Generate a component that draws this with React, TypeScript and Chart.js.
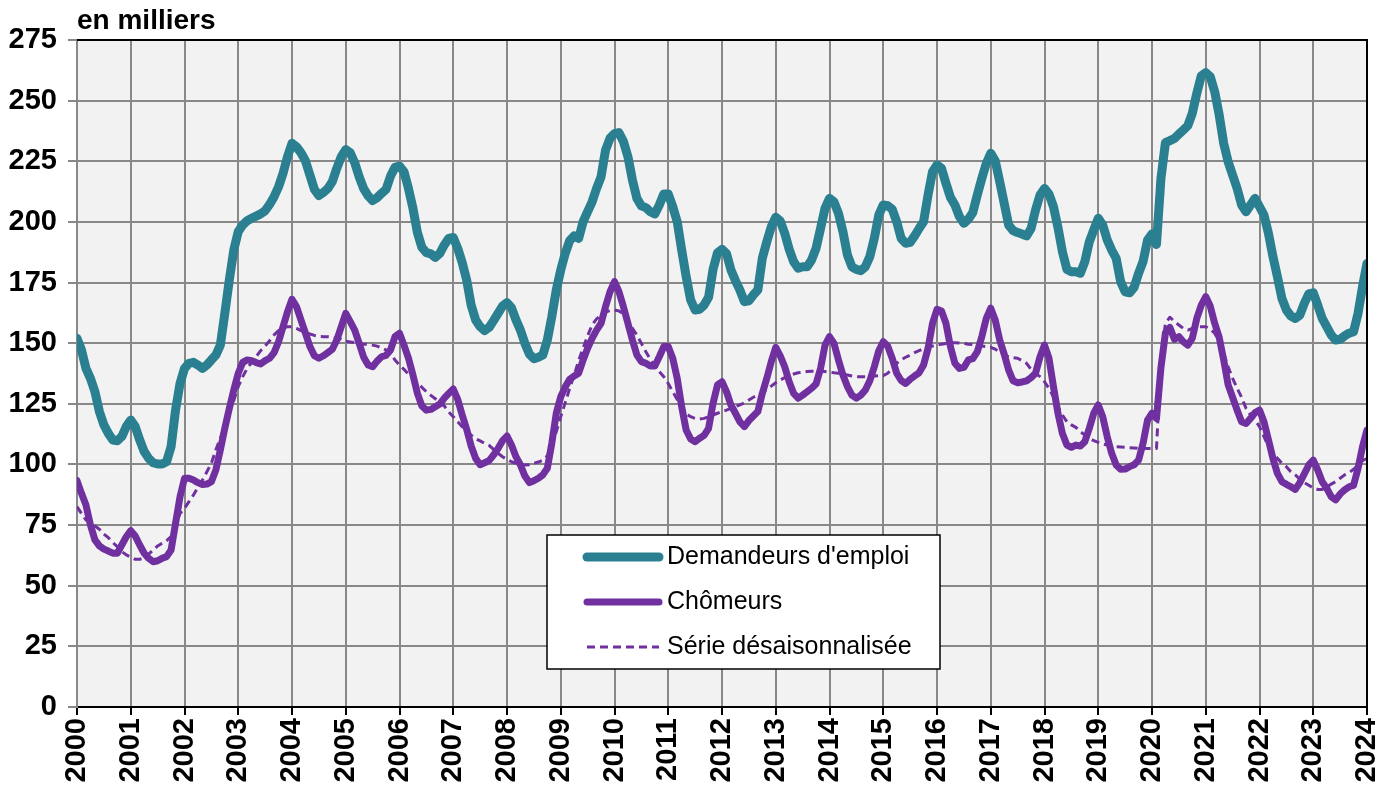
import React, { useEffect, useRef } from "react";
import { Chart, registerables } from "chart.js";

Chart.register(...registerables);

// ---------------- data ----------------
const START_YEAR = 2000;
const YEAR_TICKS = [2000, 2001, 2002, 2003, 2004, 2005, 2006, 2007, 2008, 2009, 2010, 2011, 2012, 2013, 2014, 2015, 2016, 2017, 2018, 2019, 2020, 2021, 2022, 2023, 2024];
const VALUE_TICKS = [0, 25, 50, 75, 100, 125, 150, 175, 200, 225, 250, 275];

const SERIES_NAMES = ["Demandeurs d'emploi", "Chômeurs", "Série désaisonnalisée"];
const UNIT_LABEL = "en milliers";

// monthly values, January 2000 ... January 2024 (thousands)
const demandeurs = [
  152.0, 147.2, 139.6, 135.5, 130.0, 121.8, 116.3, 112.8, 110.1, 109.8, 111.5, 115.6,
  118.3, 115.6, 110.1, 105.3, 102.5, 100.7, 100.2, 100.2, 101.1, 107.3, 122.4, 133.4,
  139.6, 141.7, 142.1, 141.0, 139.6, 141.0, 143.1, 145.1, 149.2, 162.3, 176.0, 188.4,
  196.0, 198.7, 200.5, 201.5, 202.4, 203.3, 204.6, 207.2, 210.4, 214.5, 220.0, 226.9,
  232.4, 231.0, 228.5, 225.2, 219.3, 213.4, 210.9, 212.1, 213.8, 216.6, 222.1, 226.9,
  229.8, 228.5, 224.4, 218.6, 213.7, 210.7, 208.8, 210.0, 211.8, 213.4, 218.9, 222.5,
  223.0, 220.7, 213.8, 205.6, 195.6, 189.5, 187.3, 186.8, 185.4, 187.0, 190.5, 193.2,
  193.6, 189.1, 183.2, 176.0, 165.7, 159.6, 156.8, 155.2, 156.5, 159.3, 162.3, 165.3,
  166.7, 164.6, 159.6, 155.4, 149.9, 145.5, 143.6, 144.2, 145.1, 151.3, 160.9, 171.9,
  180.2, 187.0, 192.3, 194.2, 193.2, 200.1, 204.2, 208.3, 213.8, 218.6, 229.6, 234.5,
  236.4, 236.8, 233.1, 226.9, 217.3, 209.7, 206.6, 205.9, 204.2, 203.3, 207.0, 211.5,
  211.5, 206.3, 200.1, 188.4, 177.4, 167.8, 163.7, 164.0, 165.7, 168.9, 180.4, 187.3,
  188.7, 187.0, 180.2, 175.8, 171.9, 167.1, 167.5, 169.9, 171.9, 185.0, 191.8, 198.0,
  201.9, 200.4, 195.3, 188.7, 183.6, 180.9, 181.5, 181.5, 184.3, 189.1, 197.3, 205.6,
  209.7, 208.3, 203.5, 196.0, 186.4, 181.5, 180.4, 179.9, 181.5, 185.7, 193.2, 202.8,
  207.0, 206.7, 205.2, 200.1, 193.2, 191.2, 191.6, 194.2, 197.3, 200.1, 211.1, 220.7,
  223.5, 222.1, 215.9, 210.1, 207.0, 202.2, 199.4, 201.1, 203.9, 211.1, 217.9, 224.1,
  228.3, 225.2, 216.6, 207.7, 198.7, 196.4, 195.6, 195.0, 194.2, 197.3, 204.9, 211.1,
  213.8, 211.5, 206.3, 197.8, 187.7, 180.4, 179.5, 179.5, 178.8, 183.6, 191.8, 196.7,
  201.5, 198.7, 192.6, 188.4, 185.0, 175.4, 171.2, 170.8, 173.0, 178.8, 183.6, 192.5,
  195.0, 190.7, 218.0, 232.7, 233.5, 234.4, 236.2, 237.9, 239.7, 244.8, 253.0, 260.2,
  261.5, 259.9, 253.7, 244.1, 232.4, 224.8, 219.3, 213.8, 207.0, 204.2, 207.0, 209.7,
  206.3, 202.8, 195.3, 185.7, 177.4, 168.5, 163.7, 161.2, 160.2, 161.6, 166.4, 170.3,
  170.8, 165.7, 160.2, 156.8, 153.4, 151.3, 151.6, 153.0, 154.1, 154.7, 162.3, 173.3,
  182.9,
];

const chomeurs = [
  93.3, 88.1, 83.3, 75.0, 68.9, 66.4, 65.1, 64.3, 63.4, 63.4, 66.8, 70.2,
  72.7, 70.5, 66.8, 63.4, 61.3, 59.9, 60.3, 61.3, 62.0, 64.7, 75.7, 86.7,
  94.3, 94.3, 93.6, 92.5, 91.7, 91.9, 92.9, 97.7, 106.0, 114.9, 123.1, 130.7,
  137.6, 142.1, 143.1, 142.8, 142.0, 141.4, 142.8, 143.8, 146.1, 150.6, 156.8, 163.0,
  168.1, 165.1, 159.6, 154.1, 148.6, 144.8, 143.8, 144.8, 146.1, 147.5, 151.3, 156.8,
  162.3, 158.9, 155.4, 149.9, 144.2, 141.0, 140.3, 142.6, 144.4, 145.0, 147.2, 152.7,
  154.1, 149.2, 143.8, 136.9, 129.3, 124.1, 122.4, 122.7, 123.8, 124.9, 127.3, 129.3,
  131.1, 126.8, 120.4, 114.5, 107.6, 102.5, 99.9, 100.7, 101.6, 103.9, 106.6, 109.8,
  111.7, 108.0, 103.2, 99.8, 95.2, 92.5, 93.3, 94.3, 95.7, 98.4, 108.7, 121.1,
  127.9, 132.0, 135.1, 136.5, 137.6, 143.1, 147.9, 152.0, 155.4, 158.2, 165.1, 171.2,
  175.4, 171.2, 165.0, 158.2, 151.3, 145.1, 142.4, 141.7, 140.6, 140.6, 144.4, 148.6,
  148.6, 143.8, 135.5, 123.8, 114.2, 110.5, 109.4, 110.8, 112.0, 114.9, 125.2, 132.8,
  134.1, 130.0, 124.5, 121.1, 117.6, 115.6, 118.1, 120.0, 121.8, 129.3, 135.5, 142.4,
  148.3, 144.8, 140.3, 134.1, 129.3, 127.3, 128.6, 130.0, 131.4, 133.2, 139.6, 149.2,
  152.7, 149.9, 143.1, 136.9, 132.1, 128.6, 127.3, 128.6, 130.7, 134.5, 140.3, 146.9,
  150.6, 148.8, 143.8, 137.6, 134.6, 133.4, 135.1, 136.5, 137.8, 141.0, 147.9, 158.2,
  164.0, 163.3, 158.2, 148.6, 141.7, 139.6, 140.0, 143.1, 143.6, 146.5, 152.7, 160.2,
  164.4, 159.6, 151.3, 145.5, 138.9, 134.5, 133.7, 134.0, 134.5, 135.8, 137.6, 144.4,
  149.2, 143.8, 132.1, 121.1, 112.8, 108.0, 107.1, 108.0, 107.6, 109.4, 114.9, 121.1,
  124.5, 119.7, 111.5, 104.6, 99.8, 98.0, 98.1, 99.1, 99.9, 101.8, 108.7, 118.3,
  121.1, 118.9, 140.0, 154.3, 156.5, 151.6, 152.7, 150.6, 149.2, 152.0, 160.2, 165.7,
  169.2, 165.3, 158.2, 152.4, 143.1, 132.8, 127.7, 122.4, 117.6, 116.9, 119.0, 121.4,
  122.4, 117.6, 110.1, 102.5, 96.3, 92.9, 91.8, 90.8, 89.7, 92.5, 96.1, 99.8,
  101.8, 97.7, 92.9, 90.2, 86.7, 85.4, 87.8, 89.5, 90.8, 91.4, 98.4, 107.3,
  114.2,
];

const desaisonnalise = [
  82.6, 79.8, 77.1, 76.0, 74.6, 73.3, 71.3, 69.8, 67.8, 66.1, 64.1, 62.7,
  61.8, 60.9, 60.9, 61.5, 63.0, 64.7, 66.4, 67.5, 68.6, 70.2, 75.0, 79.8,
  81.9, 84.7, 87.4, 90.6, 93.6, 97.0, 100.5, 106.0, 110.8, 115.9, 121.8, 126.3,
  132.1, 136.2, 139.6, 142.1, 144.4, 146.9, 148.8, 151.0, 153.4, 155.2, 156.1, 156.8,
  156.8, 156.1, 155.2, 154.5, 153.8, 153.2, 152.8, 152.7, 152.7, 152.5, 152.0, 151.6,
  150.8, 150.5, 150.2, 149.9, 149.6, 149.5, 149.2, 148.8, 148.0, 147.2, 145.5, 143.1,
  141.0, 139.2, 137.3, 135.5, 133.7, 131.8, 130.0, 128.5, 127.1, 125.7, 124.1, 121.6,
  119.7, 117.6, 115.6, 113.8, 112.1, 110.6, 109.7, 108.7, 107.9, 106.2, 104.6, 103.2,
  102.1, 101.1, 100.5, 100.0, 99.8, 99.9, 100.5, 101.0, 101.8, 103.5, 108.0, 113.5,
  119.7, 125.5, 131.4, 136.9, 142.8, 148.0, 153.0, 157.5, 160.0, 161.5, 162.8, 163.5,
  163.7, 163.3, 162.1, 158.9, 156.1, 153.4, 149.9, 146.5, 143.3, 140.6, 138.3, 136.2,
  133.4, 130.0, 126.8, 123.1, 120.8, 119.7, 119.0, 118.7, 119.0, 119.7, 120.4, 121.1,
  121.8, 122.4, 123.1, 123.8, 124.6, 125.4, 126.6, 127.7, 128.6, 129.6, 131.0, 132.3,
  133.7, 134.8, 135.8, 136.6, 137.3, 137.8, 138.1, 138.3, 138.4, 138.4, 138.4, 138.3,
  138.1, 137.8, 137.6, 137.2, 136.9, 136.5, 136.2, 136.2, 136.2, 136.2, 136.5, 136.6,
  136.6, 137.6, 139.6, 141.7, 143.1, 144.2, 145.1, 146.1, 146.9, 147.7, 148.3, 148.8,
  149.2, 149.6, 149.9, 150.2, 150.2, 150.1, 149.9, 149.6, 149.4, 149.1, 148.8, 148.6,
  148.3, 147.5, 146.5, 145.1, 144.4, 144.0, 143.8, 142.8, 141.7, 139.2, 137.6, 136.2,
  134.1, 131.4, 127.9, 123.8, 120.4, 117.6, 116.3, 115.3, 113.5, 112.1, 110.8, 109.8,
  109.1, 108.4, 108.0, 107.6, 107.3, 107.2, 107.1, 106.9, 106.8, 106.6, 106.6, 106.6,
  106.6, 106.6, 143.1, 158.2, 160.7, 158.9, 157.5, 156.1, 155.4, 156.1, 156.8, 156.8,
  156.8, 155.7, 154.1, 150.6, 145.8, 140.3, 135.5, 131.4, 127.7, 123.1, 120.4, 118.3,
  115.6, 111.5, 107.3, 104.6, 102.5, 100.5, 99.1, 97.0, 95.7, 93.9, 92.5, 91.4,
  90.3, 89.7, 89.7, 90.6, 91.9, 92.9, 94.3, 95.7, 96.6, 98.0, 99.8, 101.6,
  102.5,
];

// ---------------- styling ----------------
const FONT = "'Liberation Sans', Arial, Helvetica, sans-serif";
const TEAL = "#2a7f91";
const PURPLE = "#7030a0";
const GRID = "#888888";

const toPoints = (arr: number[]) => arr.map((v, i) => ({ x: START_YEAR + i / 12, y: v }));

const bgPlugin = {
  id: "plotBg",
  beforeDraw(chart: any) {
    const { ctx, chartArea: a } = chart;
    ctx.save();
    ctx.fillStyle = "#ffffff";
    ctx.fillRect(0, 0, chart.width, chart.height);
    ctx.fillStyle = "#f2f2f2";
    ctx.fillRect(a.left, a.top, a.right - a.left, a.bottom - a.top);
    ctx.restore();
  },
};

const framePlugin = {
  id: "frameLegend",
  afterDraw(chart: any) {
    const { ctx, chartArea: a } = chart;
    ctx.save();
    // top & right frame
    ctx.strokeStyle = "#000";
    ctx.lineWidth = 2;
    ctx.beginPath();
    ctx.moveTo(a.left, a.top);
    ctx.lineTo(a.right, a.top);
    ctx.lineTo(a.right, a.bottom);
    ctx.stroke();

    // unit label
    ctx.fillStyle = "#000";
    ctx.font = `bold 28px ${FONT}`;
    ctx.textAlign = "left";
    ctx.textBaseline = "alphabetic";
    ctx.fillText(UNIT_LABEL, a.left, 29);

    // legend box
    const bx = 547, by = 535, bw = 393, bh = 134;
    ctx.fillStyle = "#fff";
    ctx.fillRect(bx, by, bw, bh);
    ctx.strokeStyle = "#000";
    ctx.lineWidth = 1.5;
    ctx.strokeRect(bx, by, bw, bh);

    const rows = [
      { y: 557, color: TEAL, width: 9, dash: [] as number[] },
      { y: 602, color: PURPLE, width: 7, dash: [] as number[] },
      { y: 647, color: PURPLE, width: 3, dash: [8, 5] },
    ];
    rows.forEach((r, i) => {
      ctx.beginPath();
      ctx.strokeStyle = r.color;
      ctx.lineWidth = r.width;
      ctx.lineCap = r.dash.length ? "butt" : "round";
      ctx.setLineDash(r.dash);
      ctx.moveTo(587, r.y);
      ctx.lineTo(659, r.y);
      ctx.stroke();
      ctx.setLineDash([]);
      ctx.fillStyle = "#000";
      ctx.font = `25px ${FONT}`;
      ctx.textBaseline = "middle";
      ctx.fillText(SERIES_NAMES[i], 667, r.y);
    });
    ctx.restore();
  },
};

export default function App() {
  const ref = useRef<HTMLCanvasElement | null>(null);

  useEffect(() => {
    if (!ref.current) return;
    const chart = new Chart(ref.current, {
      type: "line",
      data: {
        datasets: [
          {
            label: SERIES_NAMES[0],
            data: toPoints(demandeurs),
            borderColor: TEAL,
            borderWidth: 9,
            pointRadius: 0,
            tension: 0,
            borderJoinStyle: "round",
            borderCapStyle: "round",
            fill: false,
            order: 3,
          },
          {
            label: SERIES_NAMES[1],
            data: toPoints(chomeurs),
            borderColor: PURPLE,
            borderWidth: 7,
            pointRadius: 0,
            tension: 0,
            borderJoinStyle: "round",
            borderCapStyle: "round",
            fill: false,
            order: 2,
          },
          {
            label: SERIES_NAMES[2],
            data: toPoints(desaisonnalise),
            borderColor: PURPLE,
            borderWidth: 3,
            borderDash: [8, 5],
            pointRadius: 0,
            tension: 0,
            borderJoinStyle: "round",
            fill: false,
            order: 1,
          },
        ],
      },
      options: {
        responsive: false,
        animation: false,
        events: [],
        layout: { padding: { top: 40, right: 27, left: 0, bottom: 0 } },
        plugins: { legend: { display: false }, tooltip: { enabled: false }, title: { display: false } },
        scales: {
          x: {
            type: "linear",
            min: YEAR_TICKS[0],
            max: YEAR_TICKS[YEAR_TICKS.length - 1],
            afterBuildTicks: (s: any) => {
              s.ticks = YEAR_TICKS.map((v) => ({ value: v }));
            },
            afterFit: (s: any) => {
              s.height = 82;
              s.paddingLeft = 0;
              s.paddingRight = 0;
            },
            ticks: {
              autoSkip: false,
              minRotation: 90,
              maxRotation: 90,
              padding: 3,
              color: "#000",
              font: { family: FONT, size: 29, weight: "bold" },
              callback: (v: any) => String(v),
            },
            grid: { color: GRID, lineWidth: 2, tickColor: "#000", tickLength: 8, tickWidth: 2 },
            border: { color: "#000", width: 2 },
          },
          y: {
            type: "linear",
            min: VALUE_TICKS[0],
            max: VALUE_TICKS[VALUE_TICKS.length - 1],
            afterBuildTicks: (s: any) => {
              s.ticks = VALUE_TICKS.map((v) => ({ value: v }));
            },
            afterFit: (s: any) => {
              s.width = 77;
              s.paddingTop = 0;
              s.paddingBottom = 0;
            },
            ticks: {
              padding: 11,
              color: "#000",
              font: { family: FONT, size: 29, weight: "bold" },
              callback: (v: any) => String(v),
            },
            grid: { color: GRID, lineWidth: 2, tickColor: GRID, tickLength: 9 },
            border: { color: GRID, width: 2 },
          },
        },
      },
      plugins: [bgPlugin, framePlugin],
    });
    return () => chart.destroy();
  }, []);

  return (
    <div style={{ position: "absolute", left: 0, top: 0, width: 1394, height: 789, background: "#fff" }}>
      <canvas ref={ref} width={1394} height={789} style={{ display: "block" }} />
    </div>
  );
}
